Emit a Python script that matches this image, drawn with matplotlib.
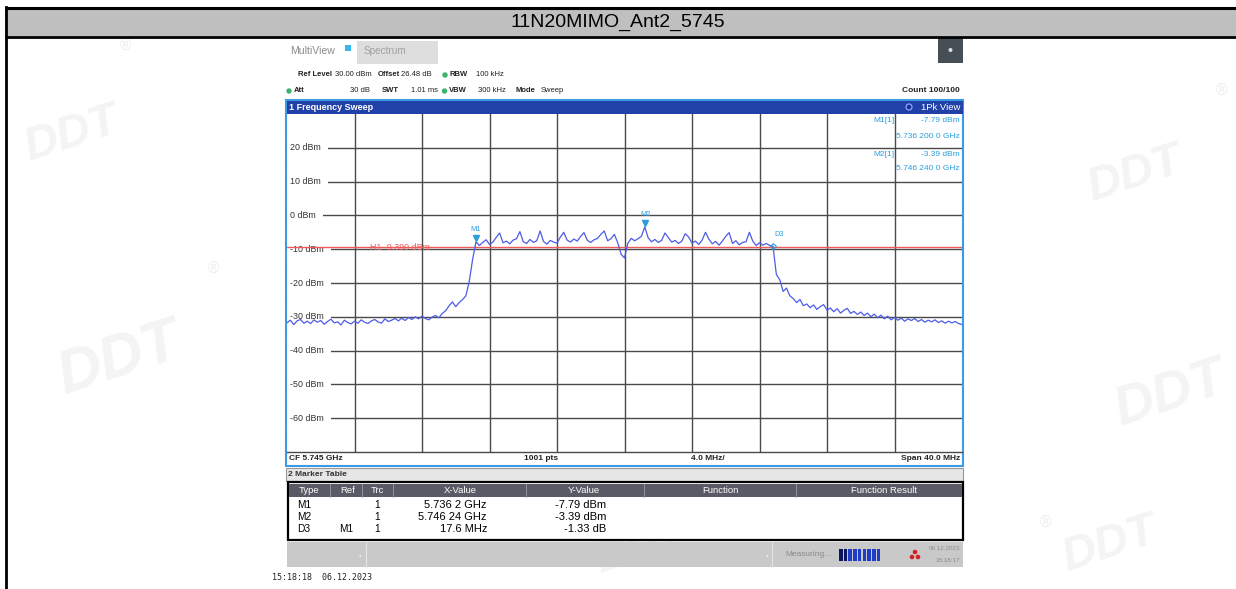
import numpy as np
import matplotlib
matplotlib.use("Agg")
import matplotlib.pyplot as plt
from matplotlib.patches import Rectangle, Circle
import matplotlib.transforms as mtrans

# ---------------- data ----------------
TITLE = "11N20MIMO_Ant2_5745"
F_START, F_STOP = 5.725, 5.765          # GHz (CF 5.745 GHz, span 40 MHz)
Y_TOP, Y_BOTTOM = 30, -70               # dBm
Y_LABELS = [20, 10, 0, -10, -20, -30, -40, -50, -60]
H1_LEVEL = -9.39

# trace, 0.2 MHz steps from 5.725 GHz to 5.765 GHz (201 points)
trace_left = [-31.8, -31.0, -32.3, -31.2, -30.8, -31.9, -31.3, -32.0, -30.9, -31.6,
              -31.1, -32.2, -31.4, -30.7, -31.8, -31.5, -32.4, -31.0, -31.7, -32.1,
              -31.3, -31.9, -30.9, -31.6, -32.0, -31.2, -30.8, -31.5, -31.9, -30.6,
              -31.4, -31.0, -30.5, -31.2,
              -30.4, -31.1, -30.2, -30.8, -30.0, -30.6, -29.8, -30.5, -30.9, -30.1, -29.6, -30.3,
              -29.0, -28.2, -26.8, -25.6, -27.0, -25.8, -24.9, -23.8, -19.5, -13.0, -7.8]
trace_band = [-8.9, -8.0, -7.2, -8.6, -7.9, -6.5, -5.2, -8.1, -7.6, -8.4,
              -7.3, -6.9, -4.8, -7.8, -8.3, -7.1, -8.0, -7.5, -4.6, -7.7,
              -8.5, -7.4, -7.9, -8.2, -6.4, -5.0, -7.3, -7.9, -7.0, -7.6,
              -6.2, -5.1, -7.4, -8.0, -7.2, -6.8, -5.6, -4.6, -7.5, -6.9,
              -5.6, -8.1, -11.5, -12.6, -8.2, -6.8, -7.5, -6.9, -6.2, -3.4,
              -6.6, -7.8, -7.1, -8.0, -7.4, -5.2, -6.6, -7.9, -7.4, -8.3,
              -7.6, -5.4, -6.4, -8.2, -7.6, -8.6, -7.3, -5.0, -7.0, -8.4,
              -7.7, -8.8, -7.6, -6.2, -5.1, -8.3, -7.5, -8.7, -8.0, -7.8,
              -5.0, -7.6, -8.9, -8.1, -8.8, -8.3, -8.9]
trace_right = [-9.1, -17.5, -19.0, -22.5, -21.5, -23.8, -24.6, -25.8, -24.9, -26.7,
               -26.2, -27.3, -26.5, -27.8, -27.0, -26.4, -28.0, -27.4, -28.5, -27.6,
               -28.9, -28.1, -27.5, -29.0, -28.4, -29.3, -28.6, -29.6, -28.9, -30.0,
               -29.2, -30.3, -29.5, -30.6, -29.8, -30.9, -30.2, -31.0, -30.4, -31.3,
               -30.6, -31.1, -30.5, -31.4, -30.8, -31.6, -31.0, -31.5, -30.9, -31.7,
               -31.2, -31.9, -31.3, -31.8, -31.4, -32.0, -32.3]
trace_dbm = trace_left + trace_band + trace_right

marker_names = ["M1", "M2", "D3"]
marker_freq = [5.7362, 5.74624, 5.7538]    # GHz
marker_level = [-7.79, -3.39, -9.12]      # dBm

tbl_type = ["M1", "M2", "D3"]
tbl_ref = ["", "", "M1"]
tbl_trc = ["1", "1", "1"]
tbl_x = ["5.736 2 GHz", "5.746 24 GHz", "17.6 MHz"]
tbl_y = ["-7.79 dBm", "-3.39 dBm", "-1.33 dB"]
tbl_headers = ["Type", "Ref", "Trc", "X-Value", "Y-Value", "Function", "Function Result"]

# ---------------- figure ----------------
W, H = 1236, 589
fig = plt.figure(figsize=(W / 100, H / 100), dpi=100)
SANS = ["Liberation Sans", "DejaVu Sans"]

bg = fig.add_axes([0, 0, 1, 1])
bg.set_xlim(0, W)
bg.set_ylim(H, 0)
bg.axis("off")

top = fig.add_axes([0, 0, 1, 1], facecolor="none", zorder=10)
top.set_xlim(0, W)
top.set_ylim(H, 0)
top.axis("off")


def rect(ax, x0, y0, x1, y1, fc="none", ec="none", lw=0.0, z=1):
    ax.add_patch(Rectangle((x0, y0), x1 - x0, y1 - y0, facecolor=fc, edgecolor=ec,
                           linewidth=lw, zorder=z))


def txt(ax, x, y, s, size=7, ha="left", color="#222222", weight="normal", fam=None, z=5, **kw):
    ax.text(x, y, s, fontsize=size, ha=ha, va="center", color=color, fontweight=weight,
            family=fam if fam else SANS, zorder=z, **kw)


# watermarks (very faint)
for (x, y, s, r) in [(72, 135, 34, 18), (120, 360, 44, 18), (1135, 175, 34, 18),
                     (1170, 395, 40, 18), (640, 548, 32, 18), (1110, 545, 34, 18)]:
    bg.text(x, y, "DDT", fontsize=s, color="#f4f4f4", fontweight="bold", style="italic",
            ha="center", va="center", rotation=r, family=SANS, zorder=0.5)
for (x, y) in [(125, 45), (213, 268), (1045, 522), (1222, 90)]:
    bg.text(x, y, "®", fontsize=11, color="#efefef", ha="center", va="center", zorder=0.5)

# outer table frame
bg.plot([5, W], [8, 8], color="black", lw=2.2, zorder=3, solid_capstyle="butt")
rect(bg, 5, 9, W, 35.5, fc="#bfbfbf", z=2)
bg.plot([5, W], [36.5, 36.5], color="black", lw=2.0, zorder=3, solid_capstyle="butt")
bg.plot([5.5, 5.5], [7, H], color="black", lw=2.0, zorder=3)
txt(bg, 618, 22, TITLE, size=14, ha="center", color="black")

# instrument top bar
txt(bg, 290, 51, "MultiView", size=7.6, color="#8a8a8a")
rect(bg, 345, 45, 351, 51, fc="#35b8ee", z=2)
rect(bg, 357, 41, 438, 64, fc="#dedede", z=2)
txt(bg, 364, 51, "Spectrum", size=7.2, color="#a0a0a0")
rect(bg, 938, 37, 963, 63, fc="#474f56", z=2)
bg.add_patch(Circle((950.5, 50), 1.3, color="#dddddd", zorder=3))

GREEN = "#3cb371"
FS = 5.5
txt(bg, 298, 75, "Ref Level", size=FS, weight="bold")
txt(bg, 335, 75, "30.00 dBm", size=FS)
txt(bg, 378, 75, "Offset", size=FS, weight="bold")
txt(bg, 401, 75, "26.48 dB", size=FS)
bg.add_patch(Circle((445, 75), 2, color=GREEN, zorder=3))
txt(bg, 450, 75, "RBW", size=FS, weight="bold")
txt(bg, 476, 75, "100 kHz", size=FS)

bg.add_patch(Circle((289, 91), 2, color=GREEN, zorder=3))
txt(bg, 294, 91, "Att", size=FS, weight="bold")
txt(bg, 350, 91, "30 dB", size=FS)
txt(bg, 382, 91, "SWT", size=FS, weight="bold")
txt(bg, 411, 91, "1.01 ms", size=FS)
bg.add_patch(Circle((444.5, 91), 2, color=GREEN, zorder=3))
txt(bg, 449, 91, "VBW", size=FS, weight="bold")
txt(bg, 478, 91, "300 kHz", size=FS)
txt(bg, 516, 91, "Mode", size=FS, weight="bold")
txt(bg, 541, 91, "Sweep", size=FS)
txt(bg, 960, 91, "Count 100/100", size=6, ha="right", weight="bold")

# plot window
rect(bg, 286, 100, 963, 466, fc="white", ec="#3d9ae6", lw=1.5, z=2)
rect(bg, 287, 100.5, 962.5, 113.5, fc="#2141a8", z=3)
txt(bg, 289, 107, "1 Frequency Sweep", size=6.5, color="white", weight="bold")
bg.add_patch(Circle((909, 107), 3, facecolor="#1530a0", edgecolor="#9fb4ff", lw=0.8, zorder=4))
txt(bg, 960, 107, "1Pk View", size=6.8, ha="right", color="white")

txt(bg, 289, 459, "CF 5.745 GHz", size=6, weight="bold")
txt(bg, 541, 459, "1001 pts", size=6, weight="bold", ha="center")
txt(bg, 708, 459, "4.0 MHz/", size=6, weight="bold", ha="center")
txt(bg, 960, 459, "Span 40.0 MHz", size=6, weight="bold", ha="right")

# trace axes
x0, x1, y0, y1 = 287, 962, 114, 452
ax = fig.add_axes([x0 / W, 1 - y1 / H, (x1 - x0) / W, (y1 - y0) / H], facecolor="none", zorder=5)
ax.set_xlim(F_START, F_STOP)
ax.set_ylim(Y_BOTTOM, Y_TOP)
ax.set_xticks(np.linspace(F_START, F_STOP, 11)[1:-1])
ax.set_yticks(Y_LABELS)
ax.tick_params(length=0, labelleft=False, labelbottom=False)
ax.grid(True, color="#4a4a4a", lw=1.0)
ax.set_axisbelow(True)
for s in ["top", "left", "right"]:
    ax.spines[s].set_visible(False)
ax.spines["bottom"].set_color("#4a4a4a")
ax.spines["bottom"].set_linewidth(1.0)

ylab_tr = ax.get_yaxis_transform()
for v in Y_LABELS:
    ax.text(0.005, v, f"{v} dBm", transform=ylab_tr, fontsize=6.4, family=SANS, color="#333333",
            ha="left", va="center", zorder=2, clip_on=True,
            bbox=dict(boxstyle="square,pad=0.75", fc="white", ec="none"))

RED = "#ef5a5a"
ax.axhline(H1_LEVEL, color=RED, lw=1.0, zorder=3)
ax.text(0.167, H1_LEVEL, "H1 -9.390 dBm", transform=ylab_tr, fontsize=6.4, family=SANS,
        color=RED, ha="center", va="center", zorder=3)

freq = np.linspace(F_START, F_STOP, len(trace_dbm))
ax.plot(freq, trace_dbm, color="#4d5ce6", lw=0.9, zorder=4)

MBLUE = "#2b9ee0"
for name, f, lv in zip(marker_names, marker_freq, marker_level):
    if name.startswith("M"):
        tr = mtrans.offset_copy(ax.transData, fig=fig, x=0, y=3.5, units="dots")
        ax.plot([f], [lv], marker="v", ms=4.5, color=MBLUE, transform=tr, zorder=6, clip_on=False)
        tr2 = mtrans.offset_copy(ax.transData, fig=fig, x=0, y=12, units="dots")
        ax.text(f, lv, name, transform=tr2, fontsize=5.3, color=MBLUE, ha="center", va="center",
                family=SANS, zorder=6)
    else:
        ax.plot([f], [lv], marker="D", ms=3, mfc="none", mec=MBLUE, mew=0.8, zorder=6)
        tr2 = mtrans.offset_copy(ax.transData, fig=fig, x=6, y=12, units="dots")
        ax.text(f, lv, name, transform=tr2, fontsize=5.3, color=MBLUE, ha="center", va="center",
                family=SANS, zorder=6)

# marker readout (top right)
txt(top, 873, 121, "M1[1]", size=6, color=MBLUE)
txt(top, 960, 121, "-7.79 dBm", size=6, color=MBLUE, ha="right")
txt(top, 960, 136, "5.736 200 0 GHz", size=6, color=MBLUE, ha="right")
txt(top, 873, 154, "M2[1]", size=6, color=MBLUE)
txt(top, 960, 154, "-3.39 dBm", size=6, color=MBLUE, ha="right")
txt(top, 960, 169, "5.746 240 0 GHz", size=6, color=MBLUE, ha="right")

# marker table
rect(bg, 286, 468, 963, 481, fc="#e6e6e6", ec="#9a9a9a", lw=0.8, z=2)
txt(bg, 288, 474.5, "2 Marker Table", size=6, color="#333333", weight="bold")
rect(bg, 287.5, 482, 963, 539.5, fc="white", ec="black", lw=1.6, z=2)
rect(bg, 289, 484, 961.5, 497, fc="#5a5a66", z=3)
for sx in [330, 362, 393, 526, 644, 796]:
    bg.plot([sx, sx], [484, 497], color="#9a9aa4", lw=0.6, zorder=4)
for hx, hs in zip([309, 348, 377, 460, 584, 720, 884], tbl_headers):
    txt(bg, hx, 490.5, hs, size=6.8, color="white", ha="center")
for i, ry in enumerate([505, 517, 529]):
    txt(bg, 304, ry, tbl_type[i], size=7.3, ha="center", color="black")
    txt(bg, 346, ry, tbl_ref[i], size=7.3, ha="center", color="black")
    txt(bg, 377, ry, tbl_trc[i], size=7.3, ha="center", color="black")
    txt(bg, 487, ry, tbl_x[i], size=8, ha="right", color="black")
    txt(bg, 606, ry, tbl_y[i], size=8, ha="right", color="black")

# status bar
rect(bg, 287, 542, 963, 567, fc="#c9c9c9", z=2)
for sx in [366, 772]:
    bg.plot([sx, sx], [542, 567], color="#e4e4e4", lw=0.8, zorder=3)
txt(bg, 360, 556, "▾", size=4, color="#e8e8e8", ha="center", fam=["DejaVu Sans"])
txt(bg, 767, 556, "▾", size=4, color="#e8e8e8", ha="center", fam=["DejaVu Sans"])
txt(bg, 785, 555, "Measuring...", size=6, color="#8a8a8a")
for k in range(9):
    bx = 839 + k * 4.7
    rect(bg, bx, 549, bx + 3.6, 561, fc="#0b1560" if k < 2 else "#1f3cc8", z=3)
for (cx, cy) in [(915, 552), (912, 557), (918, 557)]:
    bg.add_patch(Circle((cx, cy), 1.6, color="#d42020", zorder=3))
txt(bg, 960, 548, "06.12.2023", size=4.5, color="#8a8a8a", ha="right")
txt(bg, 960, 560, "15:18:17", size=4.5, color="#8a8a8a", ha="right")

txt(bg, 272, 578, "15:18:18  06.12.2023", size=6, color="#222222", fam=["DejaVu Sans Mono"])

fig.savefig("out.png", dpi=100)
